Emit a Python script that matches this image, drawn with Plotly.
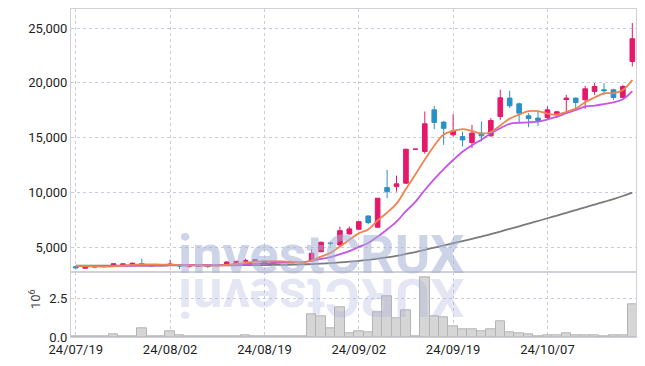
import plotly.graph_objects as go
from plotly.subplots import make_subplots

dates = [
    "24/07/19", "24/07/22", "24/07/23", "24/07/24", "24/07/25", "24/07/26", "24/07/29", "24/07/30",
    "24/07/31", "24/08/01", "24/08/02", "24/08/05", "24/08/06", "24/08/07", "24/08/08", "24/08/09",
    "24/08/12", "24/08/13", "24/08/14", "24/08/16", "24/08/19", "24/08/20", "24/08/21", "24/08/22",
    "24/08/23", "24/08/26", "24/08/27", "24/08/28", "24/08/29", "24/08/30", "24/09/02", "24/09/03",
    "24/09/04", "24/09/05", "24/09/06", "24/09/09", "24/09/10", "24/09/11", "24/09/12", "24/09/13",
    "24/09/19", "24/09/20", "24/09/23", "24/09/24", "24/09/25", "24/09/26", "24/09/27", "24/09/30",
    "24/10/02", "24/10/04", "24/10/07", "24/10/08", "24/10/10", "24/10/11", "24/10/14", "24/10/15",
    "24/10/16", "24/10/17", "24/10/18", "24/10/21",
]

open_ = [3230, 3090, 3200, 3230, 3360, 3420, 3440, 3510, 3360, 3320,
         3380, 3400, 3280, 3270, 3310, 3300, 3420, 3480, 3730, 3780,
         3750, 3560, 3620, 3640, 3620, 3750, 4600, 5400, 5215, 6220,
         6650, 7860, 6830, 10450, 10540, 10850, 13950, 13740, 17540, 16420,
         15260, 15100, 14560, 15420, 15170, 16930, 18610, 18090, 17000, 16790,
         16840, 17180, 18480, 18610, 18460, 19210, 19370, 19370, 18670, 21950]
high = [3260, 3210, 3260, 3290, 3540, 3520, 3620, 3960, 3400, 3440,
        3870, 3440, 3380, 3350, 3340, 3450, 3720, 3760, 3960, 3900,
        3800, 3720, 3700, 3680, 3650, 4820, 5520, 5520, 6890, 6900,
        7400, 7900, 9500, 12060, 11540, 13960, 13950, 17390, 17900, 16500,
        17150, 15560, 16170, 16480, 16790, 19370, 19280, 18210, 17240, 17390,
        17850, 17450, 18910, 18650, 19740, 19980, 19980, 19460, 19830, 25460]
low = [3100, 3080, 3150, 3200, 3340, 3400, 3420, 3380, 3270, 3300,
       3320, 3000, 3150, 3220, 3100, 3280, 3400, 3460, 3700, 3750,
       3550, 3540, 3580, 3550, 3560, 3690, 4550, 5160, 5150, 6150,
       6600, 7100, 6800, 9480, 10080, 10800, 13950, 13530, 15780, 14350,
       15100, 14200, 14050, 14650, 15100, 16630, 17700, 16330, 15960, 16080,
       16630, 16790, 17390, 17700, 17630, 18910, 18910, 18460, 18610, 21500]
close = [3120, 3200, 3240, 3270, 3500, 3480, 3540, 3420, 3300, 3400,
         3460, 3300, 3320, 3300, 3260, 3420, 3660, 3720, 3800, 3860,
         3580, 3680, 3660, 3600, 3590, 4450, 5460, 5350, 6520, 6680,
         7340, 7250, 9480, 10080, 10790, 13950, 13950, 16270, 16390, 15850,
         15620, 14800, 15420, 15170, 16570, 18640, 17910, 17240, 16750, 16570,
         17540, 17360, 18610, 18210, 19460, 19670, 19290, 18670, 19670, 24030]

ma5 = [3300, 3290, 3260, 3240, 3266, 3338, 3406, 3442, 3448, 3428,
       3424, 3376, 3356, 3356, 3328, 3320, 3392, 3472, 3572, 3692,
       3724, 3728, 3716, 3676, 3622, 3796, 4152, 4490, 5074, 5692,
       6270, 6628, 7454, 8166, 8988, 10310, 11650, 13008, 14270, 15282,
       15616, 15786, 15616, 15372, 15516, 16120, 16742, 17106, 17422, 17422,
       17202, 17092, 17366, 17658, 18236, 18662, 19048, 19060, 19352, 20266]
ma10 = [3300, 3290, 3280, 3280, 3290, 3300, 3320, 3330, 3330, 3347,
        3381, 3391, 3399, 3402, 3378, 3372, 3384, 3414, 3464, 3510,
        3522, 3560, 3594, 3624, 3657, 3760, 3940, 4103, 4375, 4657,
        5033, 5390, 5972, 6620, 7340, 8290, 9139, 10231, 11218, 12135,
        12963, 13718, 14312, 14821, 15399, 15868, 16264, 16361, 16397, 16469,
        16661, 16917, 17236, 17540, 17829, 17932, 18070, 18213, 18505, 19251]
ma60 = [3320, 3320, 3325, 3325, 3330, 3330, 3335, 3335, 3340, 3340,
        3345, 3345, 3350, 3350, 3355, 3355, 3360, 3365, 3370, 3375,
        3380, 3390, 3400, 3415, 3440, 3470, 3510, 3560, 3620, 3690,
        3760, 3850, 3960, 4080, 4220, 4390, 4570, 4770, 4970, 5170,
        5370, 5570, 5770, 5980, 6200, 6440, 6680, 6920, 7160, 7400,
        7650, 7900, 8150, 8400, 8650, 8900, 9150, 9400, 9680, 9990]

volume_m = [0.02, 0.02, 0.02, 0.03, 0.15, 0.03, 0.03, 0.58, 0.03, 0.03,
            0.39, 0.13, 0.02, 0.03, 0.06, 0.03, 0.05, 0.05, 0.13, 0.05,
            0.05, 0.03, 0.02, 0.02, 0.06, 1.49, 1.36, 0.58, 1.94, 0.26,
            0.39, 0.32, 1.62, 2.65, 1.23, 1.75, 0.02, 3.88, 1.36, 1.29,
            0.71, 0.52, 0.52, 0.39, 0.52, 1.03, 0.32, 0.26, 0.19, 0.06,
            0.13, 0.13, 0.26, 0.13, 0.13, 0.13, 0.06, 0.13, 0.13, 2.16]

price_ticks = [5000, 10000, 15000, 20000, 25000]
volume_ticks = [0, 2.5]
volume_tick_labels = ["0.0", "2.5"]
x_tick_dates = dates[::10]

UP = "#e5196a"
DOWN = "#2b90c8"
GRID = "#c9cce0"
FRAME = "#cfd0d8"
FONT = dict(family="Roboto", size=13, color="#1e1e1e")

fig = make_subplots(rows=2, cols=1, shared_xaxes=True, vertical_spacing=0,
                    row_heights=[263.3 / 328, 64.7 / 328])

fig.add_trace(go.Candlestick(
    x=dates, open=open_, high=high, low=low, close=close,
    increasing=dict(line=dict(color=UP, width=1), fillcolor=UP),
    decreasing=dict(line=dict(color=DOWN, width=1), fillcolor=DOWN),
    whiskerwidth=0, hoverinfo="skip", showlegend=False,
), row=1, col=1)

fig.add_trace(go.Scatter(x=dates, y=ma60, mode="lines", line=dict(color="#7a7a7a", width=1.8, shape="spline"),
                         hoverinfo="skip", showlegend=False), row=1, col=1)
fig.add_trace(go.Scatter(x=dates, y=ma10, mode="lines", line=dict(color="#c455e6", width=1.8, shape="spline"),
                         hoverinfo="skip", showlegend=False), row=1, col=1)
fig.add_trace(go.Scatter(x=dates, y=ma5, mode="lines", line=dict(color="#f0834f", width=1.8, shape="spline"),
                         hoverinfo="skip", showlegend=False), row=1, col=1)

fig.add_trace(go.Bar(x=dates, y=volume_m, marker=dict(color="#d6d6d6", line=dict(color="#b4b4b4", width=1)),
                     hoverinfo="skip", showlegend=False), row=2, col=1)

xcommon = dict(type="category", range=[-0.51, 59.39], showgrid=True, gridcolor=GRID, griddash="dot",
               gridwidth=1, tickvals=x_tick_dates, showline=True, linecolor=FRAME, mirror=True,
               ticks="", zeroline=False, rangeslider=dict(visible=False), tickfont=FONT)
fig.update_xaxes(**xcommon)
fig.update_xaxes(showticklabels=False, row=1, col=1)
fig.update_xaxes(showticklabels=True, ticktext=x_tick_dates, row=2, col=1)

fig.update_yaxes(range=[2720, 26740], tickvals=price_ticks, tickformat=",", showgrid=True, gridcolor=GRID,
                 griddash="dot", showline=True, linecolor=FRAME, mirror=True, ticks="", zeroline=False,
                 tickfont=FONT, row=1, col=1)
fig.update_yaxes(range=[0, 4.21], tickvals=volume_ticks, ticktext=volume_tick_labels, showgrid=True,
                 gridcolor=GRID, griddash="dot", showline=True, linecolor=FRAME, mirror=True, ticks="",
                 zeroline=False, tickfont=FONT, row=2, col=1)

fig.add_annotation(text="10<sup>6</sup>", xref="paper", yref="paper", x=-0.064, y=0.115, showarrow=False,
                   xanchor="center", yanchor="middle", textangle=-90,
                   font=dict(family="Roboto", size=13, color="#444444"))

fig.add_annotation(text="<b>investCRUX</b>", xref="paper", yref="paper", x=0.443, y=0.252, showarrow=False,
                   xanchor="center", yanchor="middle",
                   font=dict(family="Roboto", size=54, color="rgba(165,176,214,0.55)"))
fig.add_annotation(text="<b>XURCtsevni</b>", xref="paper", yref="paper", x=0.443, y=0.12, showarrow=False,
                   xanchor="center", yanchor="middle", textangle=180,
                   font=dict(family="Roboto", size=54, color="rgba(165,176,214,0.3)"))

# page body has an 8px default margin: size the figure so it fits the 645x366 window
fig.update_layout(width=629, height=350, margin=dict(l=63, r=1, t=1, b=21),
                  paper_bgcolor="white", plot_bgcolor="white", bargap=0.0, showlegend=False)

fig.write_html("out.html")
